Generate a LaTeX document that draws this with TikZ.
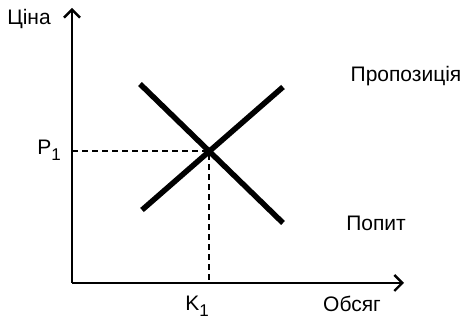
\documentclass[tikz,border=0pt]{standalone}
\usepackage{fontspec}
\setmainfont{Liberation Sans}
\usetikzlibrary{arrows.meta,calc}
\newcommand{\lowsub}[1]{\raisebox{-0.55ex}{\fontsize{17}{17}\selectfont #1}}
\tikzset{
  axisline/.style={line width=2.2pt, -{Straight Barb[length=8pt,width=16pt,line width=2.4pt]}},
  curve/.style={line width=5.5pt},
  guide/.style={line width=1.8pt, dash pattern=on 6pt off 4pt},
  lbl/.style={font=\fontsize{21}{21}\selectfont, inner sep=0pt}
}
\begin{document}
\begin{tikzpicture}[x=1pt, y=-1pt]
  \useasboundingbox (0,0) rectangle (467,323);
  % axes
  \coordinate (O) at (72,283);
  \coordinate (ytop) at (72,8);
  \coordinate (xend) at (404,283);
  \draw[axisline] (O) -- (ytop);
  \draw[axisline] (O) -- (xend);
  % supply and demand
  \coordinate (d1) at (140,84);
  \coordinate (d2) at (283,223);
  \coordinate (s1) at (142,210);
  \coordinate (s2) at (283,87);
  \coordinate (E) at (intersection of d1--d2 and s1--s2);
  \draw[guide] (O |- E) -- (E) -- (E |- O);
  \draw[curve] (d1) -- (d2);
  \draw[curve] (s1) -- (s2);
  % labels
  \node[lbl] (price) at (29,19) {Ціна};
  \node[lbl] (qty) at (352,304) {Обсяг};
  \node[lbl] (supply) at (406,76) {Пропозиція};
  \node[lbl] (demand) at (376,223) {Попит};
  \node[lbl] (p1) at (49,150) {P\lowsub{1}};
  \node[lbl] (k1) at (197,306) {K\lowsub{1}};
\end{tikzpicture}
\end{document}
